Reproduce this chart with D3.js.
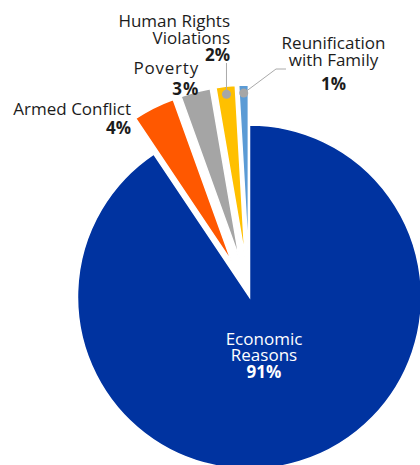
<!DOCTYPE html>
<html><head><meta charset="utf-8">
<script src="https://cdn.jsdelivr.net/npm/d3@7"></script>
<style>html,body{margin:0;padding:0;background:#fff;}svg{display:block;font-family:"Open Sans",sans-serif;}</style>
</head><body>
<svg id="c" width="420" height="465"></svg>
<script>
const categories = ["Economic Reasons","Armed Conflict","Poverty","Human Rights Violations","Reunification with Family"];
const values = [90.6, 3.9, 2.8, 1.8, 0.9];
const pctLabels = ["91%","4%","3%","2%","1%"];
const colors = ["#0033a0","#ff5800","#a5a5a5","#ffc000","#5b9bd5"];

const svg = d3.select("#c");
const cx = 249.5, cy = 297, R = 172, explode = 40;
const pie = d3.pie().sort(null).value(d => d)(values);
const arc = d3.arc().innerRadius(0).outerRadius(R);
const g = svg.append("g").attr("transform", `translate(${cx},${cy})`);

function offset(d, i) {
  if (i === 0) return [0, 0];
  const m = (d.startAngle + d.endAngle) / 2;
  return [Math.sin(m) * explode, -Math.cos(m) * explode];
}

g.selectAll("path").data(pie).join("path")
  .attr("d", arc)
  .attr("fill", (d, i) => colors[i])
  .attr("stroke", "#fff").attr("stroke-width", 1.5).attr("stroke-linejoin", "miter")
  .attr("transform", (d, i) => { const o = offset(d, i); return `translate(${o[0]},${o[1]})`; });

// label text: lines with explicit baselines
const txt = "#1c1c1c";
const fs = 17;
function label(lines, pct, x, baselines, anchor, fill) {
  const t = svg.append("text").attr("text-anchor", anchor).attr("fill", fill).attr("font-size", fs);
  lines.forEach((l, k) => t.append("tspan").attr("x", x).attr("y", baselines[k]).text(l));
  t.append("tspan").attr("x", x).attr("y", baselines[lines.length]).attr("font-weight", "bold").text(pct);
  return t;
}
label([categories[1]], pctLabels[1], 131, [114.5, 133.5], "end", txt);
label([categories[2]], pctLabels[2], 199, [74, 94.5], "end", txt).attr("letter-spacing", 0.8);
label(["Human Rights", "Violations"], pctLabels[3], 230, [26.5, 43.5, 61], "end", txt);
label(["Reunification", "with Family"], pctLabels[4], 333.5, [49, 65.5, 89.5], "middle", txt);
label(["Economic", "Reasons"], pctLabels[0], 264, [344.5, 361, 378], "middle", "#fff");

// leader dots and lines
const dotR = R - 8;
function dotPos(i) {
  const d = pie[i], o = offset(d, i), m = (d.startAngle + d.endAngle) / 2;
  return [cx + o[0] + Math.sin(m) * dotR, cy + o[1] - Math.cos(m) * dotR];
}
const p3 = dotPos(3), p4 = dotPos(4);
svg.append("path").attr("d", `M${p3[0]},63 L${p3[0]},${p3[1]}`).attr("stroke", "#aaa").attr("fill", "none");
svg.append("path").attr("d", `M286,69 L276,69 L${p4[0]},${p4[1]}`).attr("stroke", "#aaa").attr("fill", "none");
[p3, p4].forEach(p => svg.append("circle").attr("cx", p[0]).attr("cy", p[1]).attr("r", 4.5).attr("fill", "#a6a6a6"));
</script>
</body></html>
